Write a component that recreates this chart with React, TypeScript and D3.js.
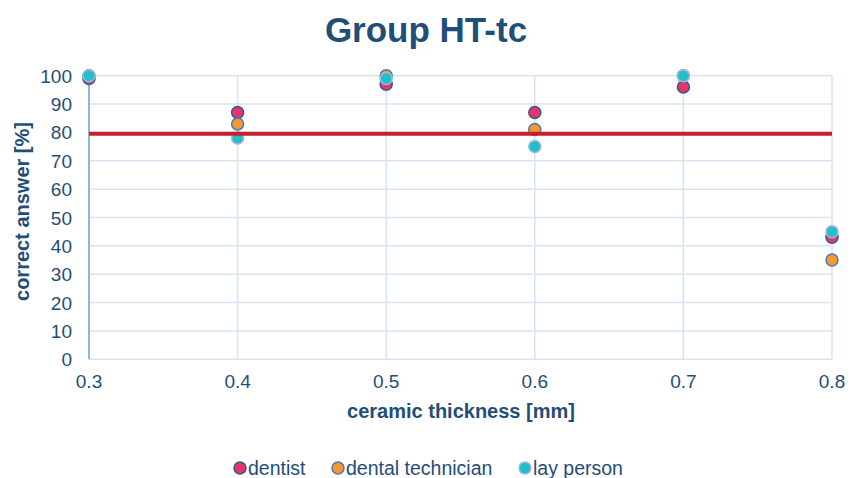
import React from "react";
import * as d3 from "d3";

const thickness = [0.3, 0.4, 0.5, 0.6, 0.7, 0.8];
const dentist = [99, 87, 97, 87, 96, 43];
const dentalTechnician = [100, 83, 100, 81, 100, 35];
const layPerson = [100, 78, 99, 75, 100, 45];
const threshold = 79.5;
const yTicks = [0, 10, 20, 30, 40, 50, 60, 70, 80, 90, 100];
const xTicks = [0.3, 0.4, 0.5, 0.6, 0.7, 0.8];

const series = [
  { name: "dentist", values: dentist, fill: "#e8336b", stroke: "#2f5d91" },
  { name: "dental technician", values: dentalTechnician, fill: "#f39a2f", stroke: "#4a7ab5" },
  { name: "lay person", values: layPerson, fill: "#1fbfcd", stroke: "#a9b6d6" },
];

const W = 859;
const H = 478;
const TEXT = "#1f4e79";
const FONT = "'Liberation Sans', Arial, sans-serif";

export default function App() {
  const x = d3.scaleLinear().domain([0.3, 0.8]).range([89, 832]);
  const y = d3.scaleLinear().domain([0, 100]).range([359.3, 75.7]);

  const legendX = [240, 338, 525];

  return (
    <svg
      width={W}
      height={H}
      style={{ position: "absolute", left: 0, top: 0, background: "#fff" }}
      fontFamily={FONT}
    >
      <text x={426} y={42} textAnchor="middle" fontSize={35} fontWeight="bold" fill={TEXT}>
        Group HT-tc
      </text>

      {/* horizontal gridlines */}
      {yTicks.map((t) => (
        <line key={"gy" + t} x1={x(0.3)} x2={x(0.8)} y1={y(t)} y2={y(t)} stroke="#d5e3f4" strokeWidth={1.5} />
      ))}
      {/* vertical gridlines */}
      {xTicks.map((t) => (
        <line key={"gx" + t} x1={x(t)} x2={x(t)} y1={y(100)} y2={y(0)} stroke="#d5e3f4" strokeWidth={1.5} />
      ))}
      {/* left axis */}
      <line x1={x(0.3)} x2={x(0.3)} y1={y(100)} y2={y(0)} stroke="#8fb3e2" strokeWidth={2} />

      {/* y tick labels */}
      {yTicks.map((t) => (
        <text key={"ly" + t} x={72} y={y(t) + 7} textAnchor="end" fontSize={19} fill={TEXT}>
          {t}
        </text>
      ))}
      {/* x tick labels */}
      {xTicks.map((t) => (
        <text key={"lx" + t} x={x(t)} y={388} textAnchor="middle" fontSize={19} fill={TEXT}>
          {d3.format(".1f")(t)}
        </text>
      ))}

      <text x={461} y={418} textAnchor="middle" fontSize={20} fontWeight="bold" fill={TEXT}>
        ceramic thickness [mm]
      </text>
      <text
        transform={`translate(29,${y(50) - 6}) rotate(-90)`}
        textAnchor="middle"
        fontSize={20}
        fontWeight="bold"
        fill={TEXT}
      >
        correct answer [%]
      </text>

      {/* data points */}
      {series.map((s) =>
        s.values.map((v, i) => (
          <circle
            key={s.name + i}
            cx={x(thickness[i])}
            cy={y(v)}
            r={6}
            fill={s.fill}
            stroke={s.stroke}
            strokeWidth={1.5}
          />
        ))
      )}

      {/* reference line */}
      <line x1={x(0.3)} x2={x(0.8)} y1={y(threshold)} y2={y(threshold)} stroke="#c8202a" strokeWidth={4} />

      {/* legend */}
      {series.map((s, i) => (
        <g key={"leg" + s.name}>
          <circle cx={legendX[i]} cy={468} r={6} fill={s.fill} stroke={s.stroke} strokeWidth={1.5} />
          <text x={legendX[i] + 8} y={475} fontSize={19.5} fill={TEXT}>
            {s.name}
          </text>
        </g>
      ))}
    </svg>
  );
}
